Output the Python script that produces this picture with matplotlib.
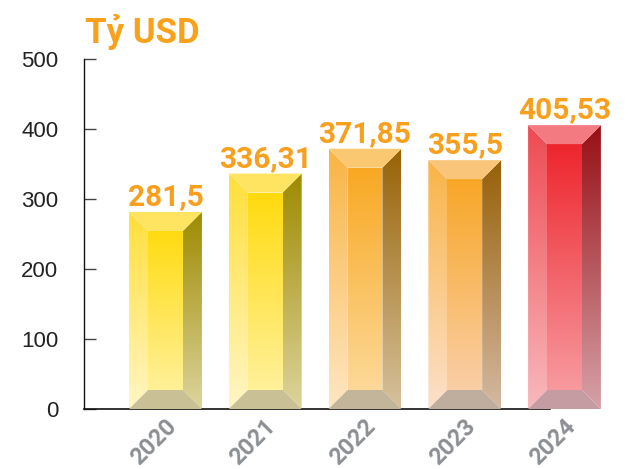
import matplotlib
matplotlib.use('Agg')
import matplotlib.pyplot as plt
import numpy as np
from matplotlib.patches import Polygon
from matplotlib.colors import to_rgb
from matplotlib.transforms import ScaledTranslation

# ---- data ----
years = ['2020', '2021', '2022', '2023', '2024']
values = [281.5, 336.31, 371.85, 355.5, 405.53]
value_labels = ['281,5', '336,31', '371,85', '355,5', '405,53']
y_ticks = [0, 100, 200, 300, 400, 500]
unit_title = 'Tỷ USD'

# ---- styles (bevel colours per bar: (top, bottom) gradients + flat caps) ----
yellow = dict(inner=('#FFD800', '#FFF3A8'), left=('#FFDF3A', '#FFF6C4'),
              right=('#9E8A00', '#DDD49C'), top='#FFE462', bottom='#C9C095')
orange1 = dict(inner=('#F8A418', '#FDDDA2'), left=('#F9B443', '#FEE6C2'),
               right=('#986206', '#D6C29C'), top='#FAC870', bottom='#C2B59A')
orange2 = dict(inner=('#F8A31A', '#FAD2B2'), left=('#F9B447', '#FCE0CA'),
               right=('#976008', '#D4B9A2'), top='#F9C57A', bottom='#BFAE9E')
red = dict(inner=('#ED1C24', '#F8A3A8'), left=('#EE4A51', '#F8B9BD'),
           right=('#970F15', '#D5A2A8'), top='#F37A80', bottom='#C49CA2')
palettes = [yellow, yellow, orange1, orange2, red]

W, H, DPI = 635, 469, 100
fig = plt.figure(figsize=(W / DPI, H / DPI), dpi=DPI)
ax_left_px, ax_bottom_px, ax_height_px = 84, 60, 350
ax = fig.add_axes([ax_left_px / W, ax_bottom_px / H,
                   (W - ax_left_px) / W, ax_height_px / H])

x = np.arange(len(years))
slot_px = 99.75
x_lo = -0.817
ax.set_xlim(x_lo, x_lo + (W - ax_left_px) / slot_px)
ax.set_ylim(0, 500)

bars = ax.bar(x, values, width=0.73, color='none', edgecolor='none', zorder=1)

bev_x = 19 / slot_px              # bevel size in data units (x)
bev_y = 19 / (ax_height_px / 500)  # bevel size in data units (y)


def grad_poly(xy, c_top, c_bot, y_top):
    poly = Polygon(xy, closed=True, fc='none', ec='none')
    ax.add_patch(poly)
    t = np.linspace(0, 1, 256)[:, None, None]
    ct = np.array(to_rgb(c_top))[None, None, :]
    cb = np.array(to_rgb(c_bot))[None, None, :]
    img = cb + (ct - cb) * t
    xs = [p[0] for p in xy]
    im = ax.imshow(img, extent=[min(xs), max(xs), 0, y_top], origin='lower',
                   aspect='auto', interpolation='bilinear', zorder=2)
    im.set_clip_path(poly)


for rect, pal in zip(bars, palettes):
    x0 = rect.get_x()
    x1 = x0 + rect.get_width()
    top = rect.get_height()
    ix0, ix1 = x0 + bev_x, x1 - bev_x
    iy0, iy1 = bev_y, top - bev_y
    grad_poly([(ix0, iy0), (ix1, iy0), (ix1, iy1), (ix0, iy1)], *pal['inner'], top)
    grad_poly([(x0, 0), (x0, top), (ix0, iy1), (ix0, iy0)], *pal['left'], top)
    grad_poly([(x1, 0), (x1, top), (ix1, iy1), (ix1, iy0)], *pal['right'], top)
    ax.add_patch(Polygon([(x0, top), (x1, top), (ix1, iy1), (ix0, iy1)],
                         closed=True, fc=pal['top'], ec='none', zorder=3))
    ax.add_patch(Polygon([(x0, 0), (x1, 0), (ix1, iy0), (ix0, iy0)],
                         closed=True, fc=pal['bottom'], ec='none', zorder=3))

ax.set_xlim(x_lo, x_lo + (W - ax_left_px) / slot_px)
ax.set_ylim(0, 500)

# value labels
for xi, v, lbl in zip(x, values, value_labels):
    ax.annotate(lbl, (xi, v), xytext=(0, 5), textcoords='offset points',
                ha='center', va='baseline', fontsize=21.5, fontweight='bold',
                family=['Roboto', 'DejaVu Sans'], color='#F8A01E', zorder=5)

# axes styling
for s in ['top', 'right']:
    ax.spines[s].set_visible(False)
ax.spines['left'].set_color('#111111')
ax.spines['left'].set_linewidth(1.0)
ax.spines['left'].set_bounds(0, 500)
ax.spines['bottom'].set_color('#111111')
ax.spines['bottom'].set_linewidth(1.2)
ax.spines['bottom'].set_bounds(x_lo, 3.855)

ax.set_yticks(y_ticks)
ax.set_yticklabels([str(t) for t in y_ticks], family=['Liberation Sans', 'DejaVu Sans'],
                   fontsize=16, color='#222222')
ax.tick_params(axis='y', direction='in', length=8.5, width=1.0, color='#444444', pad=18.5)

ax.set_xticks(x)
ax.set_xticklabels(years, rotation=45, ha='center', va='top',
                   family=['Roboto', 'DejaVu Sans'], fontweight='bold',
                   fontsize=17, color='#8C8F93')
ax.tick_params(axis='x', length=0, pad=4.0)
for lab in ax.get_xticklabels():
    lab.set_transform(lab.get_transform() + ScaledTranslation(-12 / DPI, 0, fig.dpi_scale_trans))

# unit title
fig.text(85 / W, 1 - 43 / H, unit_title, ha='left', va='baseline',
         fontsize=25, fontweight='bold', family=['Roboto', 'DejaVu Sans'],
         color='#F9A11B')

fig.savefig('out.png', dpi=DPI)
